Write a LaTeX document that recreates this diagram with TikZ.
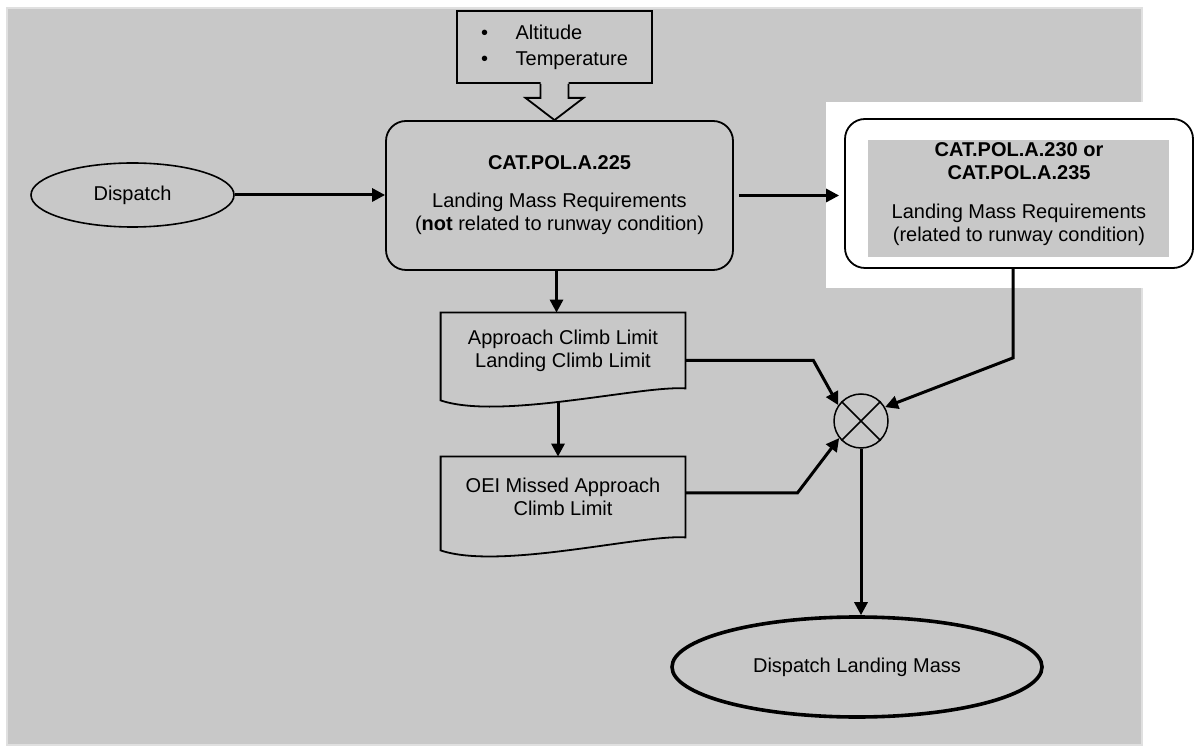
\documentclass[tikz,border=0pt]{standalone}
\usepackage{fontspec}
\setmainfont{Liberation Sans}
\usetikzlibrary{arrows.meta,shapes.geometric}
\definecolor{panel}{RGB}{200,200,200}
\definecolor{panelrim}{RGB}{224,224,224}
\begin{document}
\begin{tikzpicture}[x=0.5pt,y=-0.5pt,
  font=\fontsize{10}{11.5}\selectfont,
  flow/.style={line width=1.5pt,-{Triangle[length=6.5pt,width=6.5pt]}},
  rbox/.style={draw,line width=0.9pt,rounded corners=10pt,align=center,inner sep=0pt},
  docbox/.style={minimum width=122pt,align=center,inner sep=0pt},
  docline/.style={draw,line width=0.9pt,line join=miter},
  oval/.style={ellipse,draw,inner sep=0pt}]
\useasboundingbox (0,0) rectangle (1197,747);
% page and grey panel with its white cut-out
\fill[white] (0,0) rectangle (1197,747);
\filldraw[fill=panel,draw=panelrim,line width=0.6pt] (7,8) rectangle (1142,745);
\fill[white] (826,102) rectangle (1197,288);

% start
\node[oval,line width=0.8pt,minimum width=101.5pt,minimum height=32pt] (disp) at (132.5,195) {Dispatch};

% general landing mass requirements
\node[rbox,fill=panel,minimum width=173.5pt,minimum height=74.5pt] (req) at (559.5,195.5)
  {\textbf{CAT.POL.A.225}\\[7.5pt]Landing Mass Requirements\\(\textbf{not} related to runway condition)};

% inputs box with block arrow
\node[draw,line width=0.9pt,fill=panel,minimum width=97.5pt,minimum height=36pt,align=left,inner sep=0pt,
  font=\fontsize{10}{13}\selectfont] (env) at (554.5,47)
  {\textbullet\hspace{13.75pt}Altitude\\\textbullet\hspace{13.75pt}Temperature};
\fill[panel] ([xshift=-7pt,yshift=1pt]env.south) -- ([xshift=-7pt,yshift=-7pt]env.south)
  -- ([xshift=-14.5pt,yshift=-7pt]env.south) -- (env.south |- req.north)
  -- ([xshift=14.5pt,yshift=-7pt]env.south) -- ([xshift=7pt,yshift=-7pt]env.south)
  -- ([xshift=7pt,yshift=1pt]env.south) -- cycle;
\draw[line width=0.9pt,line join=miter] ([xshift=-7pt]env.south) -- ([xshift=-7pt,yshift=-7pt]env.south)
  -- ([xshift=-14.5pt,yshift=-7pt]env.south) -- (env.south |- req.north)
  -- ([xshift=14.5pt,yshift=-7pt]env.south) -- ([xshift=7pt,yshift=-7pt]env.south)
  -- ([xshift=7pt]env.south);

% runway-condition requirements
\node[rbox,fill=white,minimum width=174pt,minimum height=74.5pt] (rwy) at (1019,193.5) {};
\node[fill=panel,minimum width=150.5pt,minimum height=58.5pt,inner sep=0pt] (rwyin) at (1018.5,198.5) {};
\node[align=center,inner sep=0pt] (rwytxt) at (1019,194)
  {\textbf{CAT.POL.A.230 or}\\\textbf{CAT.POL.A.235}\\[8pt]Landing Mass Requirements\\(related to runway condition)};

% climb limit documents
\node[docbox,minimum height=37.5pt] (lim1) at (563,350.5) {Approach Climb Limit\\Landing Climb Limit};
\draw[docline] (lim1.south east) -- (lim1.north east) -- (lim1.north west) -- ([yshift=-6pt]lim1.south west)
  .. controls +(59,20) and +(-45,-3) .. (lim1.south east) -- cycle;
\node[docbox,minimum height=40pt] (lim2) at (563,497) {OEI Missed Approach\\Climb Limit};
\draw[docline] (lim2.south east) -- (lim2.north east) -- (lim2.north west) -- ([yshift=-6.5pt]lim2.south west)
  .. controls +(59,20) and +(-45,-3) .. (lim2.south east) -- cycle;

% combining junction
\node[circle,draw,line width=0.75pt,minimum size=27pt,inner sep=0pt] (mix) at (861,421) {};
\draw[line width=0.75pt] (mix.north west) -- (mix.south east) (mix.north east) -- (mix.south west);

% result
\node[oval,line width=1.8pt,minimum width=185pt,minimum height=50pt] (ldm) at (857,667) {Dispatch Landing Mass};

% connectors
\draw[flow] (disp.east) -- (disp.east -| req.west);
\draw[flow,shorten <=2.5pt,shorten >=2.5pt] (req.east) -- (req.east -| rwy.west);
\draw[flow] ([xshift=-1.5pt]req.south) -- ([xshift=-1.5pt]req.south |- lim1.north);
\draw[flow] ([xshift=-2.5pt,yshift=-7pt]lim1.south) -- ([xshift=-2.5pt]lim2.north);
\draw[flow,line join=miter] ([yshift=-5pt]lim1.east) -- ++(128,0) -- (mix.145);
\draw[flow,line join=miter] ([yshift=2pt]lim2.east) -- ++(112,0) -- (mix.218);
\draw[flow,line join=miter] ([xshift=-3pt]rwy.south) -- ++(0,89) -- (mix.30);
\draw[flow] (mix.south) -- (mix.south |- ldm.north);
\end{tikzpicture}
\end{document}
